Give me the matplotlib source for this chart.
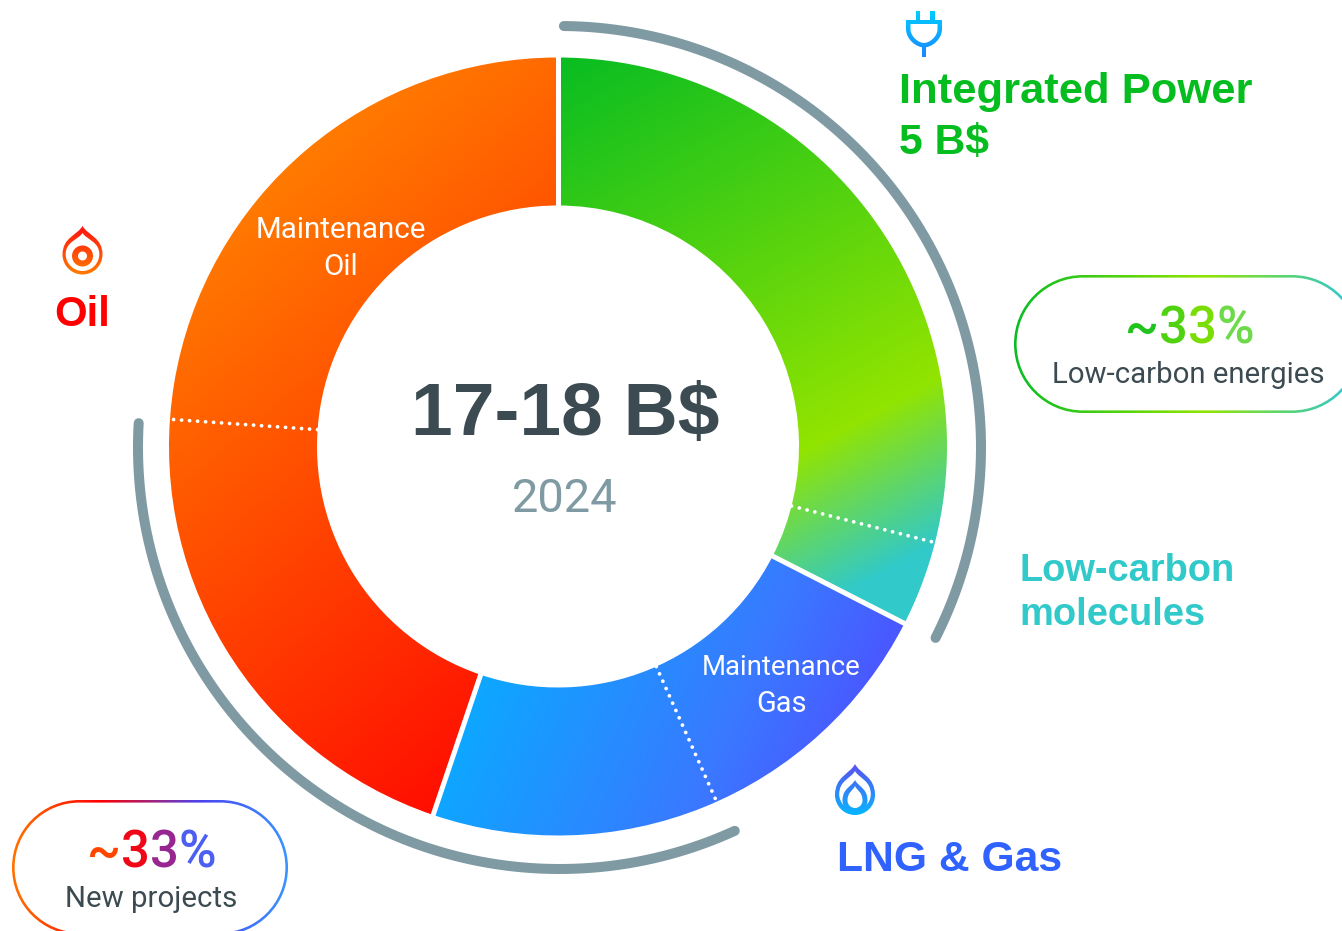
import numpy as np
import matplotlib
matplotlib.use("Agg")
import matplotlib.pyplot as plt
from matplotlib.patches import Wedge, PathPatch, Circle
from matplotlib.path import Path
from matplotlib.colors import to_rgb
from matplotlib.font_manager import FontProperties

# ---- data (B$) clockwise from 12 o'clock
segments = ["Integrated Power", "Low-carbon molecules", "Maintenance Gas", "New Gas", "New Oil", "Maintenance Oil"]
values = [5.07, 0.62, 1.89, 2.08, 3.66, 4.18]
groups = ["Power", "Power", "Gas", "Gas", "Oil", "Oil"]
total_label = "17-18 B$"
year_label = "2024"
pill_value = "~33%"
pill_captions = ["Low-carbon energies", "New projects"]

GREY = "#7f9aa3"
DARK = "#3b4b51"
W, H = 1342, 931
CX, CY, R_OUT, R_IN = 558, 446.5, 389, 241
ACX, ACY, R_ARC = 559.5, 447.5, 421.5
BOLD = ["Liberation Sans", "DejaVu Sans"]

plt.rcParams["font.family"] = ["Roboto", "DejaVu Sans"]
fig = plt.figure(figsize=(W / 100, H / 100), dpi=100)
ax = fig.add_axes([0, 0, 1, 1])
ax.set_xlim(0, W)
ax.set_ylim(H, 0)
ax.axis("off")


def grad_fill(patch, d, stops, zorder=2):
    patch.set_transform(ax.transData)
    ext = patch.get_path().transformed(patch.get_patch_transform()).get_extents()
    x0, x1 = int(ext.x0) - 2, int(ext.x1) + 3
    y0, y1 = int(ext.y0) - 2, int(ext.y1) + 3
    xx, yy = np.meshgrid(np.arange(x0, x1) + .5, np.arange(y0, y1) + .5)
    t = xx * d[0] + yy * d[1]
    ts = [s[0] for s in stops]
    cols = np.array([to_rgb(s[1]) for s in stops])
    img = np.dstack([np.interp(t, ts, cols[:, i]) for i in range(3)])
    im = ax.imshow(img, extent=(x0, x1, y1, y0), origin="upper", aspect="auto",
                   interpolation="bilinear", zorder=zorder)
    im.set_clip_path(patch)
    ax.set_xlim(0, W)
    ax.set_ylim(H, 0)
    return im


def stop_color(stops, t):
    ts = [s[0] for s in stops]
    cols = np.array([to_rgb(s[1]) for s in stops])
    return tuple(np.interp(t, ts, cols[:, i]) for i in range(3))


def px(p):
    return p * 0.72


def grad_text(s, x, y, size, stops, weight=500):
    r = fig.canvas.get_renderer()
    fp = FontProperties(family="Roboto", size=px(size), weight=weight)
    for i, ch in enumerate(s):
        w = r.get_text_width_height_descent(s[:i], fp, False)[0] if i else 0
        wc = r.get_text_width_height_descent(ch, fp, False)[0]
        ax.text(x + w, y, ch, fontproperties=fp, va="baseline", ha="left",
                color=stop_color(stops, x + w + wc / 2), zorder=6)


def drop(cx, top, bottom, hw):
    cy = bottom - hw
    k = 0.55 * hw
    v = [(cx, top), (cx + 0.25 * hw, top + 0.32 * (cy - top)), (cx + hw, cy - 0.6 * (cy - top)), (cx + hw, cy),
         (cx + hw, cy + k), (cx + k, bottom), (cx, bottom),
         (cx - k, bottom), (cx - hw, cy + k), (cx - hw, cy),
         (cx - hw, cy - 0.6 * (cy - top)), (cx - 0.25 * hw, top + 0.32 * (cy - top)), (cx, top), (cx, top)]
    c = [Path.MOVETO] + [Path.CURVE4] * 12 + [Path.CLOSEPOLY]
    return PathPatch(Path(v, c))


def pill(x0, y0, x1, y1):
    r = (y1 - y0) / 2
    k = 0.5523 * r
    ym = (y0 + y1) / 2
    v = [(x0 + r, y0), (x1 - r, y0),
         (x1 - r + k, y0), (x1, ym - k), (x1, ym),
         (x1, ym + k), (x1 - r + k, y1), (x1 - r, y1),
         (x0 + r, y1),
         (x0 + r - k, y1), (x0, ym + k), (x0, ym),
         (x0, ym - k), (x0 + r - k, y0), (x0 + r, y0), (x0 + r, y0)]
    c = [Path.MOVETO, Path.LINETO] + [Path.CURVE4] * 6 + [Path.LINETO] + [Path.CURVE4] * 6 + [Path.CLOSEPOLY]
    return PathPatch(Path(v, c))


# ---- ring
fr = np.array(values) / sum(values) * 360
edges = np.concatenate([[0], np.cumsum(fr)])


def group_span(name):
    idx = [i for i, g in enumerate(groups) if g == name]
    return edges[idx[0]], edges[idx[-1] + 1]


styles = {
    "Power": ((0.48, 0.875), [(321, "#08bd22"), (780, "#92e400"), (925, "#31c9c9"), (1100, "#31c9c9")]),
    "Gas": ((0.9, 0.4), [(713, "#0ea6ff"), (950, "#3a78ff"), (1060, "#4a58ff")]),
    "Oil": ((0.65, 0.76), [(300, "#ff7d00"), (900, "#ff0e00")]),
}
for name, (d, stops) in styles.items():
    a, b = group_span(name)
    wedge = Wedge((CX, CY), R_OUT, a - 90, b - 90, width=R_OUT - R_IN)
    grad_fill(wedge, d, stops)


def radial(ang, r0, r1, **kw):
    t = np.deg2rad(ang - 90)
    ax.plot([CX + r0 * np.cos(t), CX + r1 * np.cos(t)],
            [CY + r0 * np.sin(t), CY + r1 * np.sin(t)], zorder=3, **kw)


for i, g in enumerate(groups):
    ang = edges[i]
    prev = groups[i - 1]
    if prev != g:
        radial(ang, R_IN - 4, R_OUT + 4, color="white", lw=px(5), solid_capstyle="butt")
    else:
        radial(ang, R_IN, R_OUT, color="white", lw=px(3.8),
               linestyle=(0, (0.01, 2.1)), dash_capstyle="round")

# ---- grey arcs
for a, b in [(edges[0] + 0.6, edges[2] - 0.2), (edges[3] - 0.5, edges[5] - 0.7)]:
    t = np.deg2rad(np.linspace(a, b, 300) - 90)
    ax.plot(ACX + R_ARC * np.cos(t), ACY + R_ARC * np.sin(t), color=GREY, lw=px(10),
            solid_capstyle="round", zorder=2)

# ---- centre text
ax.text(565, 435, total_label, fontsize=px(75), fontweight="bold", family=BOLD, color=DARK, ha="center", va="baseline")
ax.text(565, 512.5, year_label, fontsize=px(47), color=GREY, ha="center", va="baseline")

# ---- ring labels
for x, y, s, size in [(341, 238, "Maintenance", 29.5), (341, 275, "Oil", 29.5),
                      (781, 675, "Maintenance", 27.5), (781, 712, "Gas", 29)]:
    ax.text(x, y, s, fontsize=px(size), color="white", ha="center", va="baseline", zorder=5)

# ---- outside labels
GREEN, TEAL, BLUE, RED = "#06bd20", "#31c9c9", "#2f62ff", "#ff0000"
for x, y, s, size, col, ha in [
    (899, 103, "Integrated Power", 43.5, GREEN, "left"),
    (899, 154, "5 B$", 42.6, GREEN, "left"),
    (1019, 581, "Low-carbon", 38, TEAL, "left"),
    (1019, 625, "molecules", 38, TEAL, "left"),
    (837, 871, "LNG & Gas", 42.6, BLUE, "left"),
    (82, 326, "Oil", 42, RED, "center"),
]:
    ax.text(x, y, s, fontsize=px(size), fontweight="bold", family=BOLD, color=col, va="baseline", ha=ha)

# ---- pills
stops_a = [(1015, "#08bd22"), (1205, "#92e400"), (1345, "#31c9c9")]
stops_b = [(15, "#ff7000"), (100, "#ff0000"), (200, "#4a44f0"), (285, "#3a92ff")]
for (x0, y0, x1, y1, st) in [(1014, 275, 1361, 413, stops_a), (12, 800, 288, 935, stops_b)]:
    grad_fill(pill(x0, y0, x1, y1), (1, 0), st, zorder=2)
    inner = pill(x0 + 2.6, y0 + 2.6, x1 - 2.6, y1 - 2.6)
    inner.set(fc="white", lw=0, zorder=3)
    ax.add_patch(inner)
grad_text(pill_value, 1125, 344, 51, [(1126, "#08bd22"), (1195, "#72dc08"), (1225, "#92e400"), (1254, "#31c9c9")])
grad_text(pill_value, 87, 868, 51, [(88, "#ff7000"), (130, "#ff0000"), (185, "#5a3ce8"), (216, "#3a92ff")])
ax.text(1188, 383, pill_captions[0], fontsize=px(29.4), color=DARK, ha="center", va="baseline", zorder=6)
ax.text(151, 907, pill_captions[1], fontsize=px(29.4), color=DARK, ha="center", va="baseline", zorder=6)


# ---- icons
def white(patch, z):
    patch.set(fc="white", lw=0, zorder=z)
    ax.add_patch(patch)


oil_st = [(226, "#ff1010"), (274, "#ff7a00")]
grad_fill(drop(82.5, 226, 274.5, 20), (0, 1), oil_st, zorder=4)
white(drop(82.5, 233, 271, 16.8), 4.1)
grad_fill(Circle((82.5, 256), 10.5), (0, 1), oil_st, zorder=4.2)
white(Circle((82.5, 256), 4.5), 4.3)

gas_st = [(764, "#5a50f0"), (814, "#08b4ff")]
grad_fill(drop(855, 764, 815, 20), (0, 1), gas_st, zorder=4)
white(drop(855, 771, 810, 15.8), 4.1)
grad_fill(drop(855, 780, 813, 12.5), (0, 1), gas_st, zorder=4.2)
white(drop(855, 786, 808, 7.5), 4.3)

pl_st = [(11, "#00ccff"), (57, "#1a88ff")]
u = [(906, 20), (942, 20), (942, 29), (942, 40), (931, 47.5), (924, 47.5), (917, 47.5), (906, 40), (906, 29), (906, 20)]
uc = [Path.MOVETO, Path.LINETO, Path.LINETO, Path.CURVE4, Path.CURVE4, Path.CURVE4, Path.CURVE4, Path.CURVE4, Path.CURVE4, Path.CLOSEPOLY]
grad_fill(PathPatch(Path(u, uc)), (0, 1), pl_st, zorder=4)
ui = [(910.5, 24), (937.5, 24), (937.5, 29), (937.5, 37), (929, 43), (924, 43), (919, 43), (910.5, 37), (910.5, 29), (910.5, 24)]
white(PathPatch(Path(ui, uc)), 4.1)
for v in ([(915.5, 11), (920, 11), (920, 21), (915.5, 21), (915.5, 11)],
          [(930, 11), (934.5, 11), (934.5, 21), (930, 21), (930, 11)],
          [(922, 46), (926, 46), (926, 57), (922, 57), (922, 46)]):
    grad_fill(PathPatch(Path(v, closed=True)), (0, 1), pl_st, zorder=4.2)

fig.savefig("out.png", dpi=100)
